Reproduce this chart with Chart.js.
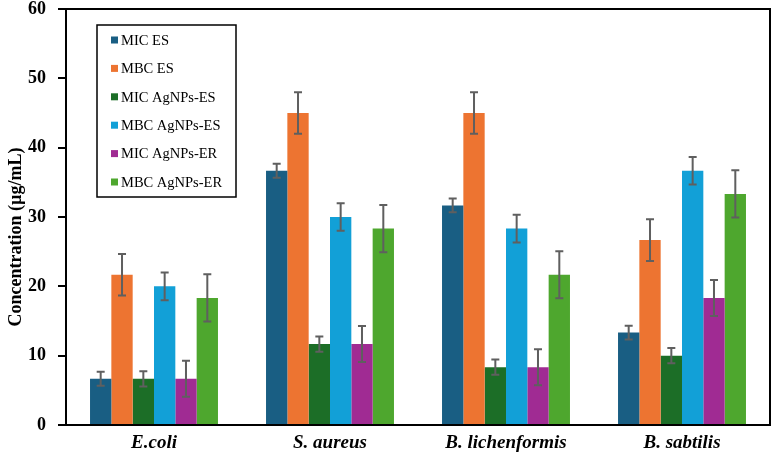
<!DOCTYPE html>
<html>
<head>
<meta charset="utf-8">
<script src="https://cdn.jsdelivr.net/npm/chart.js@4.4.1/dist/chart.umd.min.js"></script>
<style>
  html, body { margin: 0; padding: 0; background: #fff; }
  #wrap { width: 774px; height: 455px; position: relative; }
</style>
</head>
<body>
<div id="wrap"><canvas id="mainChart"></canvas></div>
<script>
// Data
const categories = ['E.coli', 'S. aureus', 'B. lichenformis', 'B. sabtilis'];
const seriesNames = ['MIC ES', 'MBC ES', 'MIC AgNPs-ES', 'MBC AgNPs-ES', 'MIC AgNPs-ER', 'MBC AgNPs-ER'];
const seriesColors = ['#195E83', '#ED7431', '#1C6E27', '#12A0D7', '#A02B93', '#4EA72E'];

const micES       = [6.67, 36.67, 31.67, 13.33];
const mbcES       = [21.67, 45.0, 45.0, 26.67];
const micAgES     = [6.67, 11.67, 8.33, 10.0];
const mbcAgES     = [20.0, 30.0, 28.33, 36.67];
const micAgER     = [6.67, 11.67, 8.33, 18.33];
const mbcAgER     = [18.33, 28.33, 21.67, 33.33];

// Error bar half-lengths
const micESErr    = [1.0, 1.0, 1.0, 1.0];
const mbcESErr    = [3.0, 3.0, 3.0, 3.0];
const micAgESErr  = [1.1, 1.1, 1.1, 1.1];
const mbcAgESErr  = [2.0, 2.0, 2.0, 2.0];
const micAgERErr  = [2.6, 2.6, 2.6, 2.6];
const mbcAgERErr  = [3.4, 3.4, 3.4, 3.4];

const yTicks = [0, 10, 20, 30, 40, 50, 60];
const yTitle = 'Concentration (µg/mL)';

const seriesValues = [micES, mbcES, micAgES, mbcAgES, micAgER, mbcAgER];
const seriesErrors = [micESErr, mbcESErr, micAgESErr, mbcAgESErr, micAgERErr, mbcAgERErr];

const serif = '"Liberation Serif", "Times New Roman", serif';

// Error bars drawn through the y scale
const errorBarPlugin = {
    id: 'errorBars',
    afterDatasetsDraw(chart) {
        const ctx = chart.ctx;
        const yScale = chart.scales.y;
        ctx.save();
        ctx.strokeStyle = '#5f5f5f';
        ctx.lineWidth = 2;
        chart.data.datasets.forEach((ds, i) => {
            const meta = chart.getDatasetMeta(i);
            meta.data.forEach((bar, j) => {
                const v = ds.data[j];
                const e = ds.errors[j];
                const yt = yScale.getPixelForValue(v + e);
                const yb = yScale.getPixelForValue(v - e);
                const x = bar.x;
                ctx.beginPath();
                ctx.moveTo(x, yt); ctx.lineTo(x, yb);
                ctx.moveTo(x - 4, yt); ctx.lineTo(x + 4, yt);
                ctx.moveTo(x - 4, yb); ctx.lineTo(x + 4, yb);
                ctx.stroke();
            });
        });
        ctx.restore();
    }
};

// Frame around the plot area + y axis title (sits a bit below centre in the original)
const framePlugin = {
    id: 'frame',
    afterDraw(chart) {
        const a = chart.chartArea;
        const ctx = chart.ctx;
        ctx.save();
        ctx.strokeStyle = '#000';
        ctx.lineWidth = 2;
        ctx.strokeRect(a.left, a.top, a.right - a.left, a.bottom - a.top);

        ctx.translate(16, (a.top + a.bottom) / 2 + 20);
        ctx.rotate(-Math.PI / 2);
        ctx.font = 'bold 18px ' + serif;
        ctx.fillStyle = '#000';
        ctx.textAlign = 'center';
        ctx.textBaseline = 'middle';
        ctx.fillText(yTitle, 0, 0);
        ctx.restore();
    }
};

// Boxed legend inside the plot area
const boxLegendPlugin = {
    id: 'boxLegend',
    afterDraw(chart) {
        const ctx = chart.ctx;
        const a = chart.chartArea;
        const left = a.left + 31, top = a.top + 16;
        const w = 139, h = 172;
        ctx.save();
        ctx.fillStyle = '#fff';
        ctx.fillRect(left, top, w, h);
        ctx.strokeStyle = '#000';
        ctx.lineWidth = 1.5;
        ctx.strokeRect(left, top, w, h);
        ctx.font = '14.5px ' + serif;
        ctx.textBaseline = 'middle';
        chart.data.datasets.forEach((ds, i) => {
            const cy = top + 15 + i * 28.4;
            ctx.fillStyle = ds.backgroundColor;
            ctx.fillRect(left + 14, cy - 3.5, 7, 7);
            ctx.fillStyle = '#000';
            ctx.fillText(ds.label, left + 24, cy + 1);
        });
        ctx.restore();
    }
};

const datasets = seriesNames.map((name, i) => ({
    label: name,
    data: seriesValues[i],
    errors: seriesErrors[i],
    backgroundColor: seriesColors[i],
    borderWidth: 0,
    barPercentage: 1.0,
    categoryPercentage: 0.727
}));

new Chart(document.getElementById('mainChart'), {
    type: 'bar',
    data: { labels: categories, datasets: datasets },
    options: {
        responsive: true,
        maintainAspectRatio: false,
        animation: false,
        devicePixelRatio: 1,
        layout: { padding: { top: 9, right: 4, left: 0, bottom: 0 } },
        plugins: {
            legend: { display: false },
            tooltip: { enabled: false }
        },
        scales: {
            x: {
                grid: { display: false, drawTicks: false },
                border: { display: false },
                ticks: {
                    color: '#000',
                    padding: 7,
                    font: { family: serif, size: 19, weight: 'bold', style: 'italic' }
                },
                afterFit(scale) {
                    scale.height = 30;
                    scale.paddingLeft = 0;
                    scale.paddingRight = 0;
                }
            },
            y: {
                min: 0,
                max: 60,
                afterBuildTicks(scale) { scale.ticks = yTicks.map(v => ({ value: v })); },
                grid: { display: true, drawOnChartArea: false, tickLength: 8, color: '#000', lineWidth: 2 },
                border: { display: false },
                ticks: {
                    color: '#000',
                    padding: 12,
                    font: { family: serif, size: 18, weight: 'bold' }
                },
                afterFit(scale) {
                    scale.width = 66;
                    scale.paddingTop = 0;
                    scale.paddingBottom = 0;
                }
            }
        }
    },
    plugins: [errorBarPlugin, framePlugin, boxLegendPlugin]
});
</script>
</body>
</html>
